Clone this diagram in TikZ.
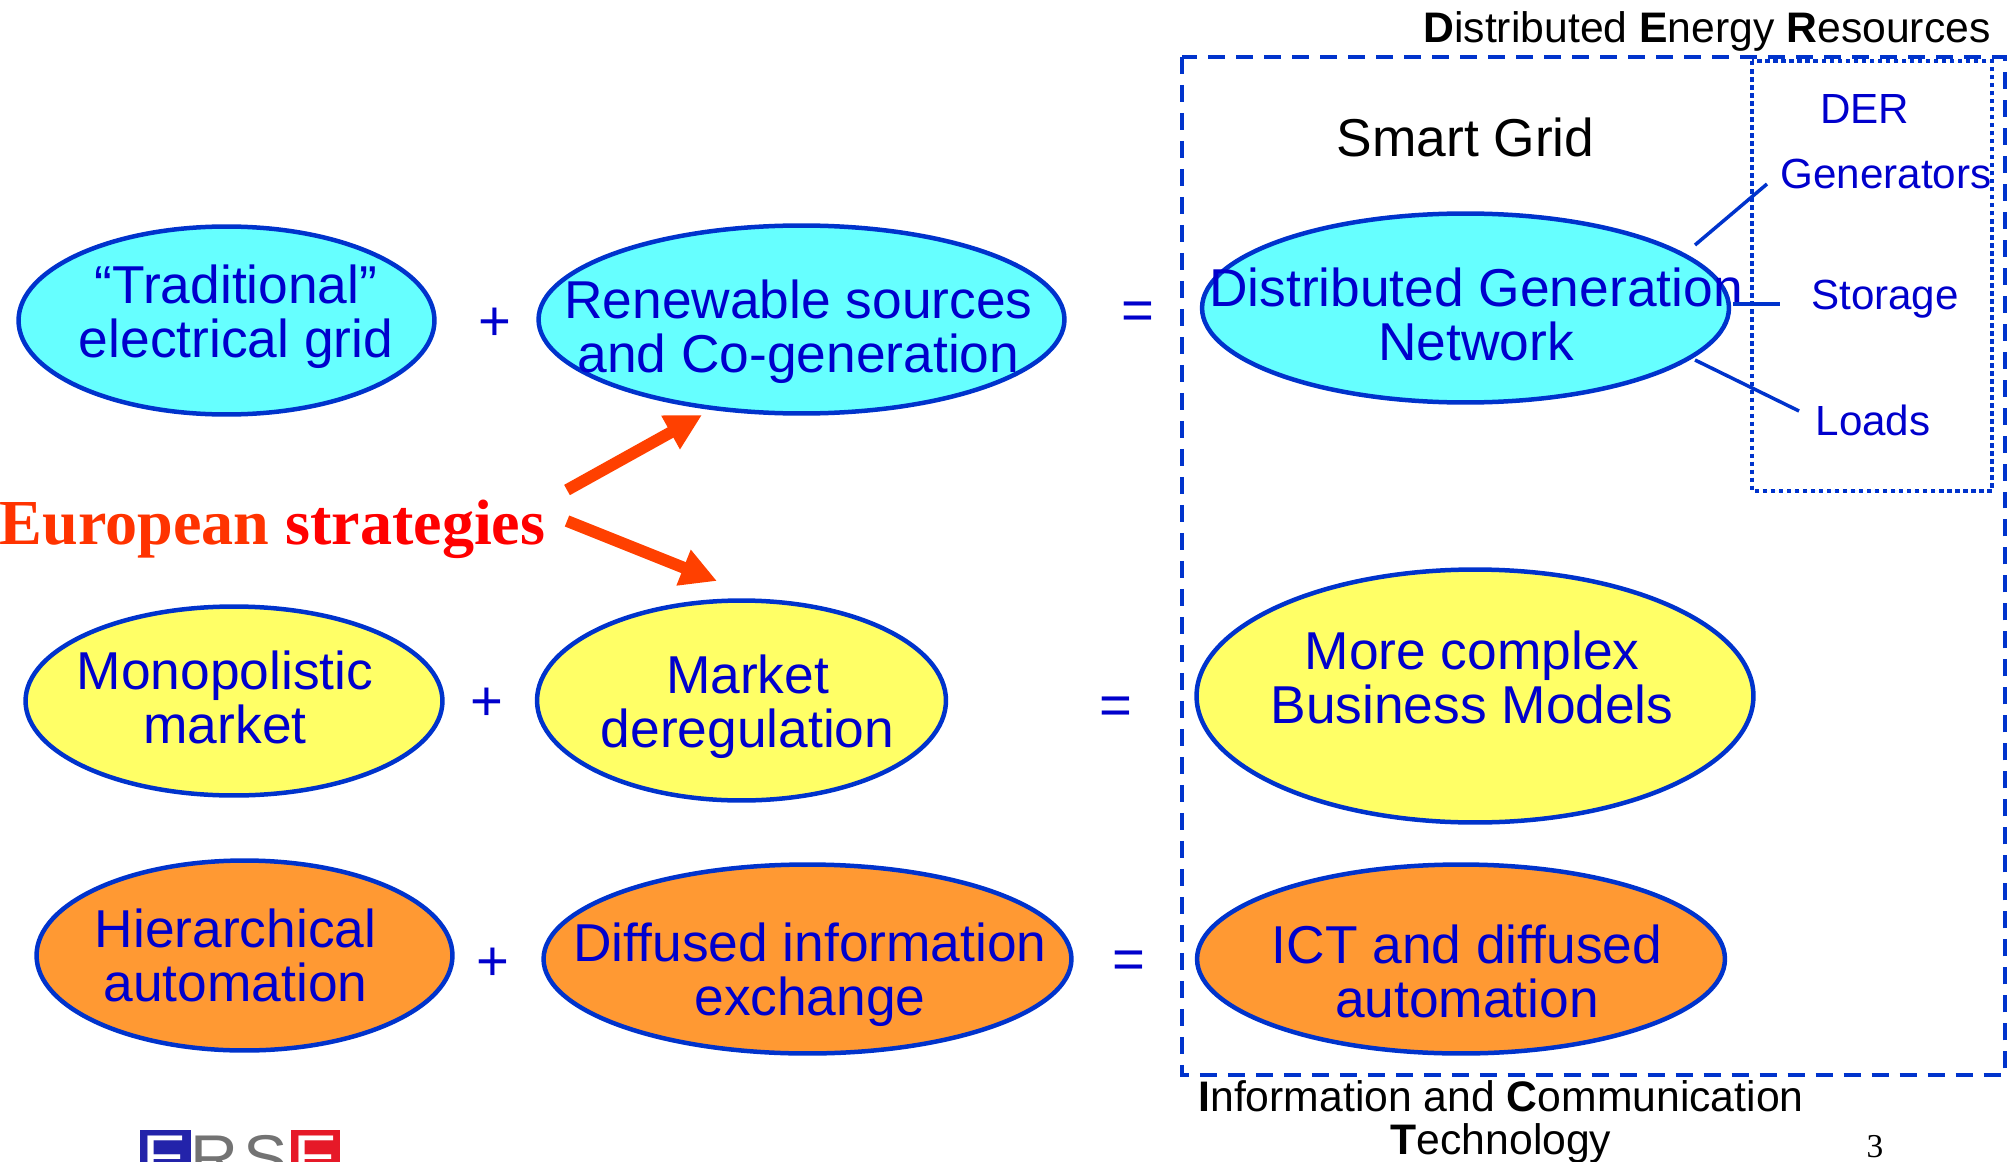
\documentclass[tikz,border=0pt]{standalone}
\usepackage{fontspec}
\setmainfont{Liberation Sans}
\newfontfamily\timesfont{Liberation Serif}
\usetikzlibrary{arrows.meta,shapes.geometric}
\definecolor{ovaledge}{RGB}{0,51,204}
\definecolor{ovaltext}{RGB}{0,0,204}
\definecolor{ovalcyan}{RGB}{102,255,255}
\definecolor{ovalyellow}{RGB}{255,255,102}
\definecolor{ovalorange}{RGB}{255,153,51}
\definecolor{strategyred}{RGB}{255,64,0}
\definecolor{europered}{RGB}{255,51,0}
\definecolor{logoblue}{RGB}{35,35,170}
\definecolor{logored}{RGB}{230,25,40}
\definecolor{logogrey}{RGB}{115,115,115}
\tikzset{
  oval/.style={ellipse, draw=ovaledge, line width=0.09cm, inner sep=0pt},
  ovaltxt/.style={text=ovaltext, align=center, inner sep=0pt, font=\fontsize{30.35}{30.7}\selectfont},
  dertxt/.style={text=ovaltext, inner sep=0pt, font=\fontsize{24}{24.5}\selectfont},
  blacktxt/.style={text=black, align=center, inner sep=0pt, font=\fontsize{24.3}{24.5}\selectfont},
  optxt/.style={text=ovaltext, inner sep=0pt, font=\fontsize{32}{32}\selectfont},
  derline/.style={draw=ovaledge, line width=0.07cm},
  strategy/.style={draw=strategyred, line width=0.236cm, -{Triangle[length=0.72cm,width=0.72cm]}},
  logoletter/.style={inner sep=0pt, font=\fontsize{36}{36}\selectfont, xscale=1.05}
}
\begin{document}
\begin{tikzpicture}[x=0.02cm, y=-0.02cm]
\useasboundingbox (0,0) rectangle (2014,1162);

% Left column
\node[oval, fill=ovalcyan, minimum width=8.32cm, minimum height=3.76cm] (trad) at (226.5,320.5) {};
\node[oval, fill=ovalyellow, minimum width=8.34cm, minimum height=3.78cm] (mono) at (234,701) {};
\node[oval, fill=ovalorange, minimum width=8.32cm, minimum height=3.80cm] (hier) at (244.5,955.5) {};
\node[ovaltxt] (tradtxt) at (236,317) {``Traditional''\\electrical grid};
\node[ovaltxt] (monotxt) at (225,697) {Monopolistic\\market};
\node[ovaltxt] (hiertxt) at (235.5,955) {Hierarchical\\automation};

% Middle column
\node[oval, fill=ovalcyan, minimum width=10.52cm, minimum height=3.76cm] (renew) at (801.5,319.5) {};
\node[oval, fill=ovalyellow, minimum width=8.18cm, minimum height=4.00cm] (market) at (741.5,700.5) {};
\node[oval, fill=ovalorange, minimum width=10.56cm, minimum height=3.78cm] (diffused) at (807.5,959) {};
\node[ovaltxt] (renewtxt) at (798.5,332) {Renewable sources\\and Co-generation};
\node[ovaltxt] (markettxt) at (747.5,706.5) {Market\\deregulation};
\node[ovaltxt] (diffusedtxt) at (810,975) {Diffused information\\exchange};

% Right column
\node[oval, fill=ovalcyan, minimum width=10.54cm, minimum height=3.78cm] (dg) at (1465.5,308) {};
\node[oval, fill=ovalyellow, minimum width=11.14cm, minimum height=5.06cm] (complex) at (1475,696) {};
\node[oval, fill=ovalorange, minimum width=10.56cm, minimum height=3.78cm] (ict) at (1461,959) {};
\node[ovaltxt] (dgtxt) at (1476,314.5) {Distributed Generation\\Network};
\node[ovaltxt] (complextxt) at (1472,677.5) {More complex\\Business Models};
\node[ovaltxt] (icttxt) at (1467,971.5) {ICT and diffused\\automation};

% Plus and equals signs
\node[optxt] (plusa) at (495,324) {+};
\node[optxt] (plusb) at (487,704) {+};
\node[optxt] (plusc) at (493,964) {+};
\node[optxt] (eqa) at (1137.5,315.5) {=};
\node[optxt] (eqb) at (1115.5,711) {=};
\node[optxt] (eqc) at (1128.5,965) {=};

% Strategies and the two arrows
\node[inner sep=0pt, font=\timesfont\bfseries\fontsize{36.5}{38}\selectfont] (strat) at (272.5,529) {\textcolor{europered}{European} \textcolor{red}{strategies}};
\coordinate (upstart) at (567,490);
\coordinate (uptip) at (702,415);
\coordinate (downstart) at (567,521);
\coordinate (downtip) at (717,581);
\draw[strategy] (upstart) -- (uptip);
\draw[strategy] (downstart) -- (downtip);

% Smart Grid box
\draw[draw=ovaledge, line width=0.08cm, dash pattern=on 0.34cm off 0.22cm] (1182,57) rectangle (2005,1075);
\node[blacktxt, font=\fontsize{30.35}{30.7}\selectfont] (smart) at (1465.5,137.5) {Smart Grid};
\node[blacktxt] (dertitle) at (1707,31) {\textbf{D}istributed \textbf{E}nergy \textbf{R}esources};
\node[blacktxt] (icttitle) at (1501,1122) {\textbf{I}nformation and \textbf{C}ommunication\\\textbf{T}echnology};

% DER box
\draw[draw=ovaledge, line width=0.09cm, dotted] (1752,61) rectangle (1992,491);
\node[dertxt] (der) at (1864.5,108.5) {DER};
\node[dertxt] (gen) at (1886,174) {Generators};
\node[dertxt] (stor) at (1885,299) {Storage};
\node[dertxt] (loads) at (1873,420) {Loads};
\coordinate (gena) at (1695,245);
\coordinate (genb) at (1767,184);
\coordinate (stora) at (1733,304);
\coordinate (storb) at (1780,304);
\coordinate (loada) at (1695,360);
\coordinate (loadb) at (1799,411);
\draw[derline] (gena) -- (genb);
\draw[derline] (stora) -- (storb);
\draw[derline] (loada) -- (loadb);

% Logo and page number
\fill[logoblue] (140,1130) rectangle (191,1180);
\fill[logored] (291,1130) rectangle (340,1180);
\node[logoletter, text=white] (logoe) at (165,1158) {E};
\node[logoletter, text=logogrey] (logor) at (214,1158) {R};
\node[logoletter, text=logogrey] (logos) at (266,1158) {S};
\node[logoletter, text=white] (logof) at (316,1158) {E};
\node[inner sep=0pt, font=\timesfont\fontsize{19}{19}\selectfont] (page) at (1875,1147) {3};
\end{tikzpicture}
\end{document}
